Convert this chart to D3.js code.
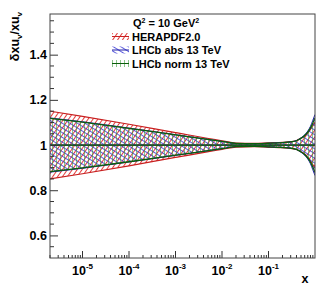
<!DOCTYPE html>
<html>
<head>
<meta charset="utf-8">
<script src="https://cdn.jsdelivr.net/npm/d3@7"></script>
<style>
  body { margin: 0; background: #fff; }
  text { font-family: "Liberation Sans", Arial, sans-serif; font-weight: bold; fill: #000; }
</style>
</head>
<body>
<div id="chart"></div>
<script>
// relative uncertainty bands of xu_v at Q^2 = 10 GeV^2
const xValues = [2e-6, 1e-5, 1e-4, 1e-3, 1e-2, 0.02, 0.05, 0.1, 0.2, 0.3, 0.4, 0.5, 0.6, 0.7, 0.8, 0.9, 1.0];
const heraUnc = [0.150, 0.127, 0.092, 0.055, 0.019, 0.009, 0.007, 0.010, 0.012, 0.015, 0.020, 0.030, 0.040, 0.055, 0.070, 0.088, 0.100];
const lhcbAbsUnc = [0.120, 0.103, 0.075, 0.046, 0.016, 0.007, 0.006, 0.008, 0.011, 0.014, 0.020, 0.032, 0.045, 0.062, 0.083, 0.110, 0.135];
const lhcbNormUnc = [0.118, 0.101, 0.074, 0.045, 0.016, 0.007, 0.006, 0.008, 0.011, 0.014, 0.019, 0.030, 0.042, 0.057, 0.076, 0.098, 0.120];
const legendLabels = ["HERAPDF2.0", "LHCb abs 13 TeV", "LHCb norm 13 TeV"];
const yTicks = [0.6, 0.8, 1.0, 1.2, 1.4];
const xTicks = [1e-5, 1e-4, 1e-3, 1e-2, 1e-1];

const width = 332;
const height = 288;
const padL = 50, padR = 315, padT = 14, padB = 258;

const svg = d3.select("#chart")
    .append("svg")
    .attr("width", width)
    .attr("height", height);

svg.append("rect").attr("width", width).attr("height", height).attr("fill", "#fff");

const x = d3.scaleLog().domain([2e-6, 1]).range([padL, padR]);
const y = d3.scaleLinear().domain([0.5, 1.58]).range([padB, padT]);

const defs = svg.append("defs");
defs.append("clipPath").attr("id", "plotClip")
    .append("rect").attr("x", padL).attr("y", padT)
    .attr("width", padR - padL).attr("height", padB - padT);

function hatch(id, color, angle, gap, sw) {
    defs.append("pattern")
        .attr("id", id)
        .attr("patternUnits", "userSpaceOnUse")
        .attr("width", gap).attr("height", gap)
        .attr("patternTransform", `rotate(${angle})`)
        .append("line")
        .attr("x1", 0.5).attr("y1", 0).attr("x2", 0.5).attr("y2", gap)
        .attr("stroke", color).attr("stroke-width", sw);
}
hatch("hRed", "#e02828", 35, 4, 0.9);
hatch("hBlue", "#3434d4", -58, 4, 0.8);
hatch("hGreen", "#3c9c3c", 0, 4, 0.6);

const bands = [
    { name: legendLabels[0], unc: heraUnc, pat: "hRed", color: "#c82020", lw: 1.2 },
    { name: legendLabels[1], unc: lhcbAbsUnc, pat: "hBlue", color: "#2020a8", lw: 1 },
    { name: legendLabels[2], unc: lhcbNormUnc, pat: "hGreen", color: "#0b5e0b", lw: 1.3 }
];

const plot = svg.append("g").attr("clip-path", "url(#plotClip)");

const area = d3.area()
    .x(d => x(d.x))
    .y0(d => y(1 - d.u))
    .y1(d => y(1 + d.u))
    .curve(d3.curveMonotoneX);
const lineUp = d3.line().x(d => x(d.x)).y(d => y(1 + d.u)).curve(d3.curveMonotoneX);
const lineDn = d3.line().x(d => x(d.x)).y(d => y(1 - d.u)).curve(d3.curveMonotoneX);
const lineMid = d3.line().x(d => x(d.x)).y(() => y(1));

bands.forEach(b => {
    const pts = xValues.map((v, i) => ({ x: v, u: b.unc[i] }));
    plot.append("path").attr("d", area(pts)).attr("fill", `url(#${b.pat})`);
    [lineUp, lineDn, lineMid].forEach(fn => {
        plot.append("path").attr("d", fn(pts))
            .attr("fill", "none")
            .attr("stroke", b.color)
            .attr("stroke-width", b.lw);
    });
});

// y axis
const yAxis = d3.axisLeft(y)
    .tickValues(yTicks)
    .tickSize(-8)
    .tickPadding(3)
    .tickFormat(d => d === 1 ? "1" : d3.format(".1f")(d));
const yg = svg.append("g").attr("transform", `translate(${padL},0)`).call(yAxis);
yg.select(".domain").remove();
yg.selectAll("text").attr("font-size", 12.5).attr("font-family", "Liberation Sans, Arial, sans-serif").attr("font-weight", "bold");
yg.selectAll("line").attr("stroke", "#333");

const yMinor = d3.range(0.55, 1.58, 0.05).filter(v => !yTicks.some(t => Math.abs(t - v) < 1e-6));
svg.append("g").selectAll("line").data(yMinor).enter().append("line")
    .attr("x1", padL).attr("x2", padL + 4)
    .attr("y1", d => y(d)).attr("y2", d => y(d))
    .attr("stroke", "#333");

// x axis
const xMinor = [];
for (let e = -6; e < 0; e++) {
    for (let m = 2; m <= 9; m++) {
        const v = m * Math.pow(10, e);
        if (v >= 2e-6 && v <= 1) xMinor.push(v);
    }
}
svg.append("g").selectAll("line").data(xMinor).enter().append("line")
    .attr("x1", d => x(d)).attr("x2", d => x(d))
    .attr("y1", padB).attr("y2", padB - 3)
    .attr("stroke", "#333");
svg.append("g").selectAll("line").data(xTicks).enter().append("line")
    .attr("x1", d => x(d)).attr("x2", d => x(d))
    .attr("y1", padB).attr("y2", padB - 7)
    .attr("stroke", "#333");

const xl = svg.append("g").selectAll("text").data(xTicks).enter().append("text")
    .attr("x", d => x(d))
    .attr("y", 275)
    .attr("text-anchor", "middle")
    .attr("font-size", 12.5);
xl.append("tspan").text("10");
xl.append("tspan").attr("dy", -6).attr("font-size", 8).text(d => Math.round(Math.log10(d)));

svg.append("text").attr("x", 305).attr("y", 283).attr("text-anchor", "middle")
    .attr("font-size", 12.5).text("x");

// y title
const yt = svg.append("text")
    .attr("transform", "translate(19,12) rotate(-90)")
    .attr("text-anchor", "end")
    .attr("font-size", 12.5);
yt.append("tspan").text("δxu");
yt.append("tspan").attr("font-size", 8).attr("dy", 3).text("v");
yt.append("tspan").attr("dy", -3).text("/xu");
yt.append("tspan").attr("font-size", 8).attr("dy", 3).text("v");

// frame
svg.append("rect")
    .attr("x", padL).attr("y", padT)
    .attr("width", padR - padL).attr("height", padB - padT)
    .attr("fill", "none").attr("stroke", "#444").attr("stroke-width", 1);

// legend
const q = svg.append("text").attr("x", 133).attr("y", 27).attr("font-size", 11);
q.append("tspan").text("Q");
q.append("tspan").attr("dy", -4).attr("font-size", 7).text("2");
q.append("tspan").attr("dy", 4).text(" = 10 GeV");
q.append("tspan").attr("dy", -4).attr("font-size", 7).text("2");

const leg = svg.append("g").selectAll("g").data(bands).enter().append("g")
    .attr("transform", (d, i) => `translate(112,${33 + i * 13.5})`);
leg.append("rect").attr("width", 17).attr("height", 7).attr("fill", d => `url(#${d.pat})`);
leg.append("line").attr("x1", 0).attr("x2", 17).attr("y1", 3.5).attr("y2", 3.5)
    .attr("stroke", d => d.color).attr("stroke-width", 1);
leg.append("text").attr("x", 20).attr("y", 7.5).attr("font-size", 11).text(d => d.name);
</script>
</body>
</html>
